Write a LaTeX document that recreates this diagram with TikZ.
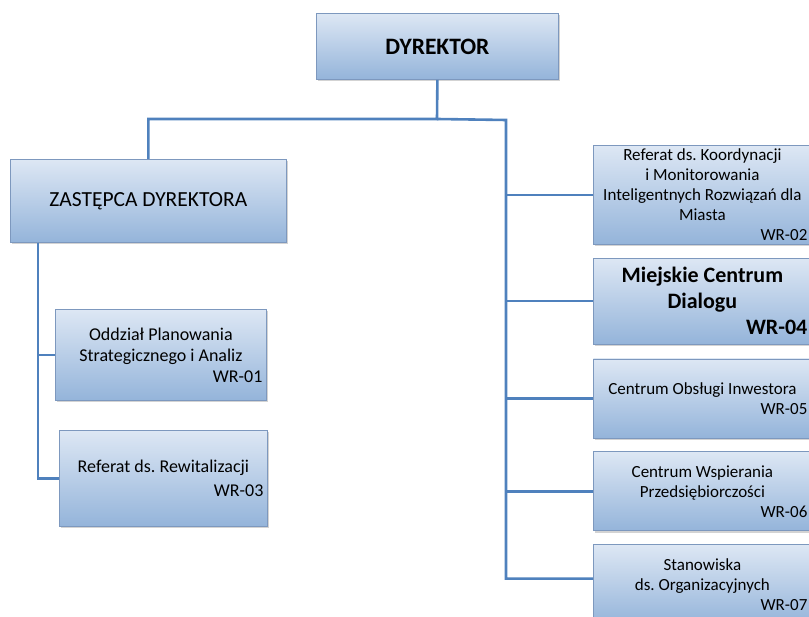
\documentclass[tikz,border=0pt]{standalone}
\usepackage{fontspec}
\setmainfont{Carlito}
\frenchspacing
\usetikzlibrary{positioning,shadows,calc}
\definecolor{BoxTop}{RGB}{221,231,244}
\definecolor{BoxBot}{RGB}{148,180,218}
\definecolor{BoxEdge}{RGB}{125,152,190}
\definecolor{LinkBlue}{RGB}{79,129,189}
\begin{document}
\begin{tikzpicture}[
  x=1pt, y=1pt,
  node distance=13pt and 1cm,
  unit/.style={rectangle, draw=BoxEdge, line width=0.8pt, top color=BoxTop, bottom color=BoxBot,
               inner xsep=4pt, inner ysep=2pt, align=flush center,
               drop shadow={opacity=0.35, shadow xshift=1.5pt, shadow yshift=-2pt}},
  rightunit/.style={unit, text width=210pt, font=\fontsize{17}{20}\selectfont},
  leftunit/.style={unit, font=\fontsize{18}{21}\selectfont},
  link/.style={draw=LinkBlue, line width=2.6pt}
]
\useasboundingbox (0,0) rectangle (809,-617);
% top of the chart
\node[unit, anchor=north west, minimum width=242pt, minimum height=66pt,
      font=\fontsize{23.5}{27}\selectfont\bfseries] (dyr) at (316,-13) {DYREKTOR};
\node[unit, anchor=north west, minimum width=276pt, minimum height=83pt,
      font=\fontsize{21.5}{25}\selectfont] (zast) at (10,-159) {ZASTĘPCA DYREKTORA};
% left branch
\node[leftunit, anchor=north west, text width=203pt, minimum height=91pt] (odz) at (55,-309)
  {Oddział Planowania\\Strategicznego i Analiz\\\hspace*{\fill}WR-01};
\node[leftunit, anchor=north west, text width=200pt, minimum height=96pt] (rew) at (59,-430)
  {Referat ds. Rewitalizacji\\[3pt]\hspace*{\fill}WR-03};
% right branch
\node[rightunit, anchor=north west, minimum height=99pt] (wr02) at (593,-145)
  {Referat ds. Koordynacji\\i Monitorowania\\Inteligentnych Rozwiązań dla\\Miasta\\\hspace*{\fill}WR-02};
\node[rightunit, below=13pt of wr02, minimum height=86pt, font=\fontsize{22}{26}\selectfont\bfseries] (wr04)
  {Miejskie Centrum\\Dialogu\\\hspace*{\fill}WR-04};
\node[rightunit, below=14pt of wr04, minimum height=79pt] (wr05)
  {Centrum Obsługi Inwestora\\\hspace*{\fill}WR-05};
\node[rightunit, below=13pt of wr05, minimum height=79pt] (wr06)
  {Centrum Wspierania\\Przedsiębiorczości\\\hspace*{\fill}WR-06};
\node[rightunit, below=13pt of wr06, minimum height=80pt] (wr07)
  {Stanowiska\\ds. Organizacyjnych\\\hspace*{\fill}WR-07};
% connectors
\coordinate (split) at (437,-119);
\coordinate (rbar) at (506,-120);
\coordinate (lbar) at ([xshift=28pt]zast.south west);
\draw[link] (dyr.south) -- (split) -| (zast.north);
\draw[link] (split) -- (rbar) |- ([yshift=6pt]wr07.west);
\draw[link] (rbar |- wr02.west) -- (wr02.west);
\draw[link] (rbar |- wr04.west) -- (wr04.west);
\draw[link] (rbar |- wr05.west) -- (wr05.west);
\draw[link] (rbar |- wr06.west) -- (wr06.west);
\draw[link] (lbar) |- (odz.west);
\draw[link] (lbar) |- (rew.west);
\end{tikzpicture}
\end{document}
